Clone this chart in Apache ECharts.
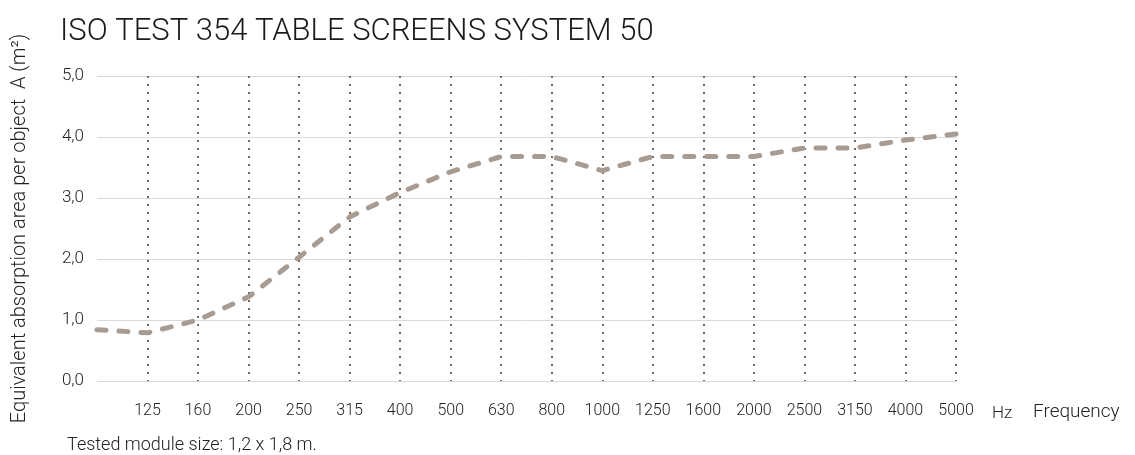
<!DOCTYPE html>
<html><head><meta charset="utf-8">
<script src="https://cdn.jsdelivr.net/npm/echarts@6/dist/echarts.min.js"></script>
<style>html,body{margin:0;padding:0;background:#fff}#c{width:1135px;height:455px}</style>
</head><body><div id="c"></div>
<script>
const categories = ['', '125', '160', '200', '250', '315', '400', '500', '630', '800', '1000', '1250', '1600', '2000', '2500', '3150', '4000', '5000'];
const values = [0.84, 0.79, 1.0, 1.38, 2.03, 2.69, 3.09, 3.43, 3.68, 3.68, 3.45, 3.68, 3.68, 3.68, 3.82, 3.82, 3.95, 4.05];
const yTicks = { min: 0, max: 5, interval: 1 };
const titleText = 'ISO TEST 354 TABLE SCREENS SYSTEM 50';
const yName = 'Equivalent absorption area per object  A (m²)';
const noteText = 'Tested module size: 1,2 x 1,8 m.';

const FONT = 'Roboto';
const chart = echarts.init(document.getElementById('c'), null, { renderer: 'canvas' });
chart.setOption({
  animation: false,
  backgroundColor: '#fff',
  title: [
    { text: titleText, left: 55, top: 12, textStyle: { fontFamily: FONT, fontWeight: 300, fontSize: 31, color: '#1a1a1a' } },
    { text: noteText, left: 62, top: 431, textStyle: { fontFamily: FONT, fontWeight: 300, fontSize: 18, color: '#222' } },
    { text: 'Hz', left: 987, top: 400, textStyle: { fontFamily: FONT, fontWeight: 300, fontSize: 17, color: '#222' } },
    { text: 'Frequency', left: 1028, top: 398, textStyle: { fontFamily: FONT, fontWeight: 300, fontSize: 19, color: '#222' } }
  ],
  grid: { left: 97, right: 179, top: 76, bottom: 74 },
  xAxis: {
    type: 'category',
    data: categories,
    boundaryGap: false,
    axisLine: { show: false },
    axisTick: { show: false },
    axisLabel: { margin: 22, fontFamily: FONT, fontWeight: 300, fontSize: 16, color: '#222', interval: 0 },
    splitLine: {
      show: true,
      interval: (i) => i > 0,
      lineStyle: { color: '#7a6a5c', type: [2, 6], width: 2, cap: 'butt' }
    }
  },
  yAxis: {
    type: 'value',
    min: yTicks.min, max: yTicks.max, interval: yTicks.interval,
    name: yName,
    nameLocation: 'middle',
    nameGap: 67,
    nameTextStyle: { fontFamily: FONT, fontWeight: 300, fontSize: 20, color: '#222' },
    axisLine: { show: false },
    axisTick: { show: false },
    axisLabel: { margin: 13, fontFamily: FONT, fontWeight: 300, fontSize: 17, color: '#222',
      formatter: (v) => v.toFixed(1).replace('.', ',') },
    splitLine: { show: true, lineStyle: { color: '#d9d9d9', width: 1 } }
  },
  series: [{
    type: 'line',
    data: values,
    smooth: false,
    symbol: 'none',
    lineStyle: { color: '#a89b91', width: 5, type: [9, 13], cap: 'round', join: 'round' },
    z: 3
  }]
});
</script></body></html>
